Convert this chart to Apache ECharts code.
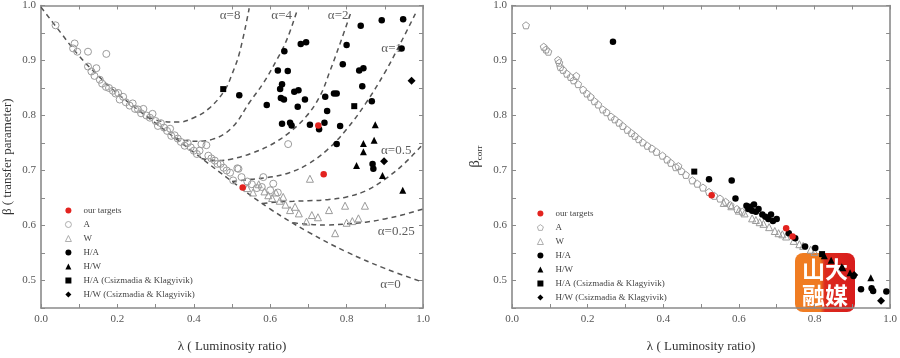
<!DOCTYPE html>
<html>
<head>
<meta charset="utf-8">
<script src="https://cdn.jsdelivr.net/npm/echarts@6.0.0/dist/echarts.min.js"></script>
<style>html,body{margin:0;padding:0;background:#fff;}#c{width:900px;height:358px;}</style>
</head>
<body>
<div id="c"></div>
<script>
// ---------- data (left panel: beta vs lambda) ----------
const leftTargets = [[0.528,0.669],[0.726,0.782],[0.740,0.693]];
const leftA = [[0.038,0.964],[0.084,0.922],[0.088,0.931],[0.095,0.916],[0.123,0.916],[0.171,0.912],[0.145,0.886],
 [0.123,0.889],[0.132,0.880],[0.140,0.872],[0.154,0.865],[0.160,0.858],[0.170,0.852],[0.178,0.850],[0.188,0.845],[0.195,0.840],
 [0.202,0.841],[0.206,0.829],[0.215,0.834],[0.222,0.824],[0.232,0.818],[0.240,0.822],[0.246,0.812],[0.254,0.811],[0.262,0.804],
 [0.268,0.812],[0.276,0.800],[0.285,0.796],[0.292,0.803],[0.300,0.790],[0.306,0.781],[0.314,0.786],[0.322,0.778],[0.330,0.772],
 [0.338,0.776],[0.341,0.763],[0.350,0.764],[0.358,0.758],[0.366,0.752],[0.376,0.745],[0.384,0.750],[0.392,0.742],[0.400,0.736],
 [0.408,0.730],[0.415,0.736],[0.420,0.748],[0.433,0.746],[0.438,0.727],[0.446,0.722],[0.455,0.718],[0.462,0.712],[0.470,0.712],
 [0.478,0.705],[0.486,0.700],[0.495,0.696],[0.503,0.682],[0.514,0.704],[0.517,0.703],[0.525,0.688],[0.540,0.680],[0.552,0.675],
 [0.565,0.668],[0.578,0.670],[0.582,0.688],[0.600,0.664],[0.608,0.676],[0.620,0.660],[0.647,0.748]];
const leftW = [[0.540,0.668],[0.555,0.660],[0.570,0.675],[0.585,0.662],[0.595,0.655],[0.605,0.650],[0.615,0.660],[0.625,0.645],
 [0.634,0.652],[0.640,0.638],[0.652,0.628],[0.665,0.634],[0.675,0.622],[0.695,0.607],[0.704,0.685],[0.709,0.619],[0.725,0.615],
 [0.754,0.628],[0.770,0.586],[0.796,0.636],[0.800,0.605],[0.815,0.608],[0.831,0.613],[0.848,0.636]];
const leftHA = [[0.837,0.963],[0.892,0.973],[0.948,0.975],[0.800,0.928],[0.944,0.922],[0.680,0.930],[0.694,0.933],[0.637,0.917],
 [0.790,0.893],[0.833,0.882],[0.844,0.886],[0.620,0.882],[0.646,0.881],[0.631,0.857],[0.626,0.848],[0.841,0.853],[0.519,0.837],
 [0.663,0.843],[0.674,0.846],[0.767,0.840],[0.774,0.840],[0.744,0.834],[0.628,0.832],[0.636,0.829],[0.691,0.829],[0.591,0.819],
 [0.672,0.816],[0.866,0.826],[0.749,0.808],[0.631,0.785],[0.652,0.787],[0.656,0.782],[0.704,0.783],[0.728,0.775],[0.742,0.787],
 [0.783,0.781],[0.774,0.748],[0.868,0.712],[0.870,0.703]];
const leftHW = [[0.875,0.783],[0.872,0.755],[0.844,0.749],[0.844,0.734],[0.826,0.709],[0.894,0.691],[0.947,0.664]];
const leftHACK = [[0.477,0.848],[0.820,0.817]];
const leftHWCK = [[0.898,0.717],[0.970,0.863]];

// ---------- data (right panel: beta_corr vs lambda) ----------
const rightTargets = [[0.528,0.655],[0.725,0.595],[0.742,0.580]];
const rightA = [[0.037,0.964],[0.084,0.925],[0.090,0.920],[0.096,0.916],[0.122,0.901],[0.125,0.896],[0.170,0.872],
 [0.128,0.888],[0.135,0.883],[0.145,0.876],[0.155,0.870],[0.163,0.864],[0.175,0.857],[0.188,0.847],[0.198,0.840],[0.208,0.834],
 [0.218,0.826],[0.228,0.820],[0.240,0.811],[0.250,0.806],[0.262,0.798],[0.272,0.793],[0.283,0.787],[0.293,0.781],[0.305,0.774],
 [0.316,0.768],[0.325,0.763],[0.335,0.757],[0.346,0.751],[0.358,0.745],[0.370,0.740],[0.382,0.734],[0.398,0.727],[0.410,0.720],
 [0.420,0.714],[0.433,0.706],[0.440,0.708],[0.448,0.699],[0.460,0.692],[0.477,0.682],[0.490,0.676],[0.505,0.669],[0.521,0.661],
 [0.535,0.654],[0.550,0.649],[0.565,0.643],[0.578,0.637],[0.595,0.630],[0.609,0.625]];
const rightW = [[0.560,0.641],[0.580,0.635],[0.600,0.627],[0.615,0.622],[0.635,0.613],[0.645,0.610],[0.655,0.606],[0.665,0.603],
 [0.680,0.597],[0.695,0.590],[0.705,0.586],[0.715,0.584],[0.725,0.580],[0.745,0.572],[0.760,0.566],[0.770,0.563],[0.790,0.556],[0.800,0.552]];
const rightHA = [[0.267,0.934],[0.521,0.684],[0.581,0.682],[0.591,0.649],[0.620,0.636],[0.625,0.630],[0.630,0.634],[0.635,0.627],
 [0.640,0.638],[0.645,0.625],[0.652,0.630],[0.662,0.620],[0.670,0.616],[0.678,0.612],[0.685,0.620],[0.690,0.608],[0.700,0.612],
 [0.732,0.586],[0.749,0.577],[0.775,0.562],[0.802,0.559],[0.903,0.508],[0.923,0.484],[0.951,0.486],[0.955,0.481],[0.990,0.480]];
const rightHW = [[0.826,0.545],[0.844,0.537],[0.872,0.525],[0.875,0.523],[0.894,0.514],[0.949,0.505]];
const rightHACK = [[0.482,0.698],[0.820,0.548]];
const rightHWCK = [[0.905,0.510],[0.976,0.463]];

// ---------- alpha curves ----------
const curveNames = ['α=0','α=0.25','α=0.5','α=1','α=2','α=4','α=8'];
const curve0   = [[0.0,0.997],[0.05,0.952],[0.1,0.908],[0.15,0.872],[0.2,0.840],[0.3,0.786],[0.4,0.733],[0.5,0.680],[0.6,0.630],[0.7,0.588],[0.8,0.552],[0.9,0.522],[1.0,0.497]];
const curve025 = [[0.66,0.605],[0.70,0.602],[0.75,0.601],[0.80,0.603],[0.85,0.606],[0.90,0.612],[0.95,0.620],[1.0,0.630]];
const curve05  = [[0.58,0.640],[0.62,0.643],[0.66,0.644],[0.70,0.645],[0.75,0.647],[0.80,0.652],[0.85,0.663],[0.90,0.684],[0.95,0.712],[1.0,0.748]];
const curve1   = [[0.50,0.680],[0.55,0.684],[0.60,0.688],[0.65,0.696],[0.70,0.712],[0.75,0.738],[0.80,0.775],[0.85,0.822],[0.90,0.878],[0.94,0.930],[0.98,0.985]];
const curve2   = [[0.42,0.722],[0.46,0.718],[0.50,0.721],[0.55,0.731],[0.60,0.746],[0.65,0.769],[0.695,0.799],[0.73,0.835],[0.756,0.880],[0.783,0.931],[0.81,0.985]];
const curve4   = [[0.35,0.759],[0.40,0.753],[0.45,0.757],[0.50,0.778],[0.547,0.825],[0.582,0.859],[0.617,0.901],[0.643,0.937],[0.67,0.990]];
const curve8   = [[0.28,0.797],[0.32,0.789],[0.36,0.788],[0.40,0.796],[0.44,0.813],[0.48,0.845],[0.50,0.875],[0.52,0.915],[0.545,0.995]];
// label anchors for curve names (data coordinates)
const curveLabelPos = [[0.915,0.492],[0.930,0.589],[0.930,0.736],[0.918,0.922],[0.778,0.982],[0.630,0.982],[0.495,0.982]];

const legendNames = ['our targets','A','W','H/A','H/W','H/A (Csizmadia & Klagyivik)','H/W (Csizmadia & Klagyivik)'];
const xAxisTitle = 'λ ( Luminosity ratio)';
const yAxisTitleLeft = 'β ( transfer parameter)';

// ---------- styling ----------
const SERIF = 'Liberation Serif';
const AX = '#8a8a8a';
const GREY = '#9b9b9b';
const RED = '#e3231f';
const BLK = '#000';
const pentagon = 'path://M0,-10 L9.51,-3.09 L5.88,8.09 L-5.88,8.09 L-9.51,-3.09 Z';

function fmtX(v){ return Math.round(v*10)%2===0 ? v.toFixed(1) : ''; }
function fmtY(v){ return Math.round(v*100)%10===0 ? v.toFixed(1) : ''; }

function xAx(grid, pos, label){
  return {type:'value', gridIndex:grid, position:pos, min:0, max:1, interval:0.1,
    axisLine:{show:true, onZero:false, lineStyle:{color:AX, width:1.6}},
    axisTick:{show:true, inside:true, length:4, lineStyle:{color:AX, width:1}},
    splitLine:{show:false},
    axisLabel:{show:label, formatter:fmtX, fontFamily:SERIF, fontSize:11, color:'#555', margin:6}};
}
function yAx(grid, pos, label){
  return {type:'value', gridIndex:grid, position:pos, min:0.45, max:1.0, interval:0.05,
    axisLine:{show:true, onZero:false, lineStyle:{color:AX, width:1.6}},
    axisTick:{show:true, inside:true, length:4, lineStyle:{color:AX, width:1}},
    splitLine:{show:false},
    axisLabel:{show:label, formatter:fmtY, fontFamily:SERIF, fontSize:11, color:'#555', margin:5}};
}

const xAxes = [xAx(0,'bottom',true), xAx(0,'top',false), xAx(1,'bottom',true), xAx(1,'top',false)];
xAxes[0].name = xAxisTitle; xAxes[2].name = xAxisTitle;
[0,2].forEach(i=>{ Object.assign(xAxes[i], {nameLocation:'middle', nameGap:32,
  nameTextStyle:{fontFamily:SERIF, fontSize:13, color:'#333'}}); });
const yAxes = [yAx(0,'left',true), yAx(0,'right',false), yAx(1,'left',true), yAx(1,'right',false)];
Object.assign(yAxes[0], {name:yAxisTitleLeft, nameLocation:'middle', nameGap:27, nameRotate:90,
  nameTextStyle:{fontFamily:SERIF, fontSize:13, color:'#333'}});
Object.assign(yAxes[2], {name:'{a|β}{b|corr}', nameLocation:'middle', nameGap:28, nameRotate:90,
  nameTextStyle:{fontFamily:SERIF, color:'#333', rich:{a:{fontSize:15, fontFamily:SERIF, color:'#333', lineHeight:18},
    b:{fontSize:9, fontFamily:SERIF, color:'#333', lineHeight:18, padding:[9,0,0,0]}}}});

function scat(name, data, g, symbol, size, style, z){
  return {type:'scatter', name:name, data:data, xAxisIndex:g*2, yAxisIndex:g*2, symbol:symbol,
    symbolSize:size, itemStyle:Object.assign({opacity:1}, style), z:z, silent:true, animation:false};
}
const openStyle = {color:'rgba(255,255,255,0)', borderColor:GREY, borderWidth:1};
const blackStyle = {color:BLK};
const redStyle = {color:RED};

const series = [];
[[leftA,leftW,leftHA,leftHW,leftHACK,leftHWCK,leftTargets,'circle'],
 [rightA,rightW,rightHA,rightHW,rightHACK,rightHWCK,rightTargets,pentagon]].forEach((d,g)=>{
  series.push(scat('A', d[0], g, d[7], 7, openStyle, 3));
  series.push(scat('W', d[1], g, 'triangle', 7, openStyle, 3));
  series.push(scat('H/A', d[2], g, 'circle', 6.5, blackStyle, 4));
  series.push(scat('H/W', d[3], g, 'triangle', 7, blackStyle, 4));
  series.push(scat('H/A (Csizmadia & Klagyivik)', d[4], g, 'rect', 6, blackStyle, 4));
  series.push(scat('H/W (Csizmadia & Klagyivik)', d[5], g, 'diamond', 8, blackStyle, 4));
  series.push(scat('our targets', d[6], g, 'circle', 6.5, redStyle, 5));
});
[curve0,curve025,curve05,curve1,curve2,curve4,curve8].forEach((c,i)=>{
  series.push({type:'line', name:curveNames[i], data:c, xAxisIndex:0, yAxisIndex:0, smooth:0.4,
    showSymbol:false, symbol:'none', silent:true, animation:false, z:2,
    lineStyle:{color:'#555', width:1.5, type:[5,4]}});
});
series.push({type:'scatter', name:'labels', xAxisIndex:0, yAxisIndex:0, symbolSize:0, silent:true, animation:false, z:6,
  data:curveLabelPos.map((p,i)=>({value:p, name:curveNames[i]})),
  label:{show:true, position:'inside', formatter:'{b}', fontFamily:SERIF, fontSize:13, color:'#333'}});

function legend(left, top, pent){
  return {orient:'vertical', left:left, top:top, itemWidth:6, itemHeight:6, itemGap:5, selectedMode:false,
    textStyle:{fontFamily:SERIF, fontSize:9, color:'#444', lineHeight:8, padding:[0,0,0,7]},
    data:legendNames.map(n=>{
      const o={name:n};
      if(n==='A') o.icon = pent ? pentagon : 'circle';
      if(n==='A' || n==='W') o.itemStyle = {color:'rgba(255,255,255,0)', borderColor:GREY, borderWidth:0.8};
      return o;
    })};
}

const chart = echarts.init(document.getElementById('c'), null, {renderer:'canvas'});
chart.setOption({
  backgroundColor:'#fff',
  animation:false,
  grid:[{left:41, top:5, width:382, height:306}, {left:512, top:5, width:380, height:306}],
  xAxis:xAxes, yAxis:yAxes,
  legend:[legend(60,201,false), legend(532,204,true)],
  series:series,
  graphic:[{type:'group', left:795, top:253, z:100, children:[
    {type:'rect', shape:{x:0,y:0,width:60,height:59,r:8},
     style:{fill:new echarts.graphic.LinearGradient(0,0,1,0,[{offset:0,color:'#f07d22'},{offset:0.42,color:'#ef7a22'},{offset:0.5,color:'#dc2a1e'},{offset:1,color:'#d81c1c'}])}},
    {type:'text', x:30, y:16, style:{text:'山大', fill:'#fff', font:'bold 23px "Noto Sans CJK SC"', align:'center', verticalAlign:'middle'}},
    {type:'text', x:30, y:42, style:{text:'融媒', fill:'#fff', font:'bold 23px "Noto Sans CJK SC"', align:'center', verticalAlign:'middle'}}
  ]}]
});
</script>
</body>
</html>
